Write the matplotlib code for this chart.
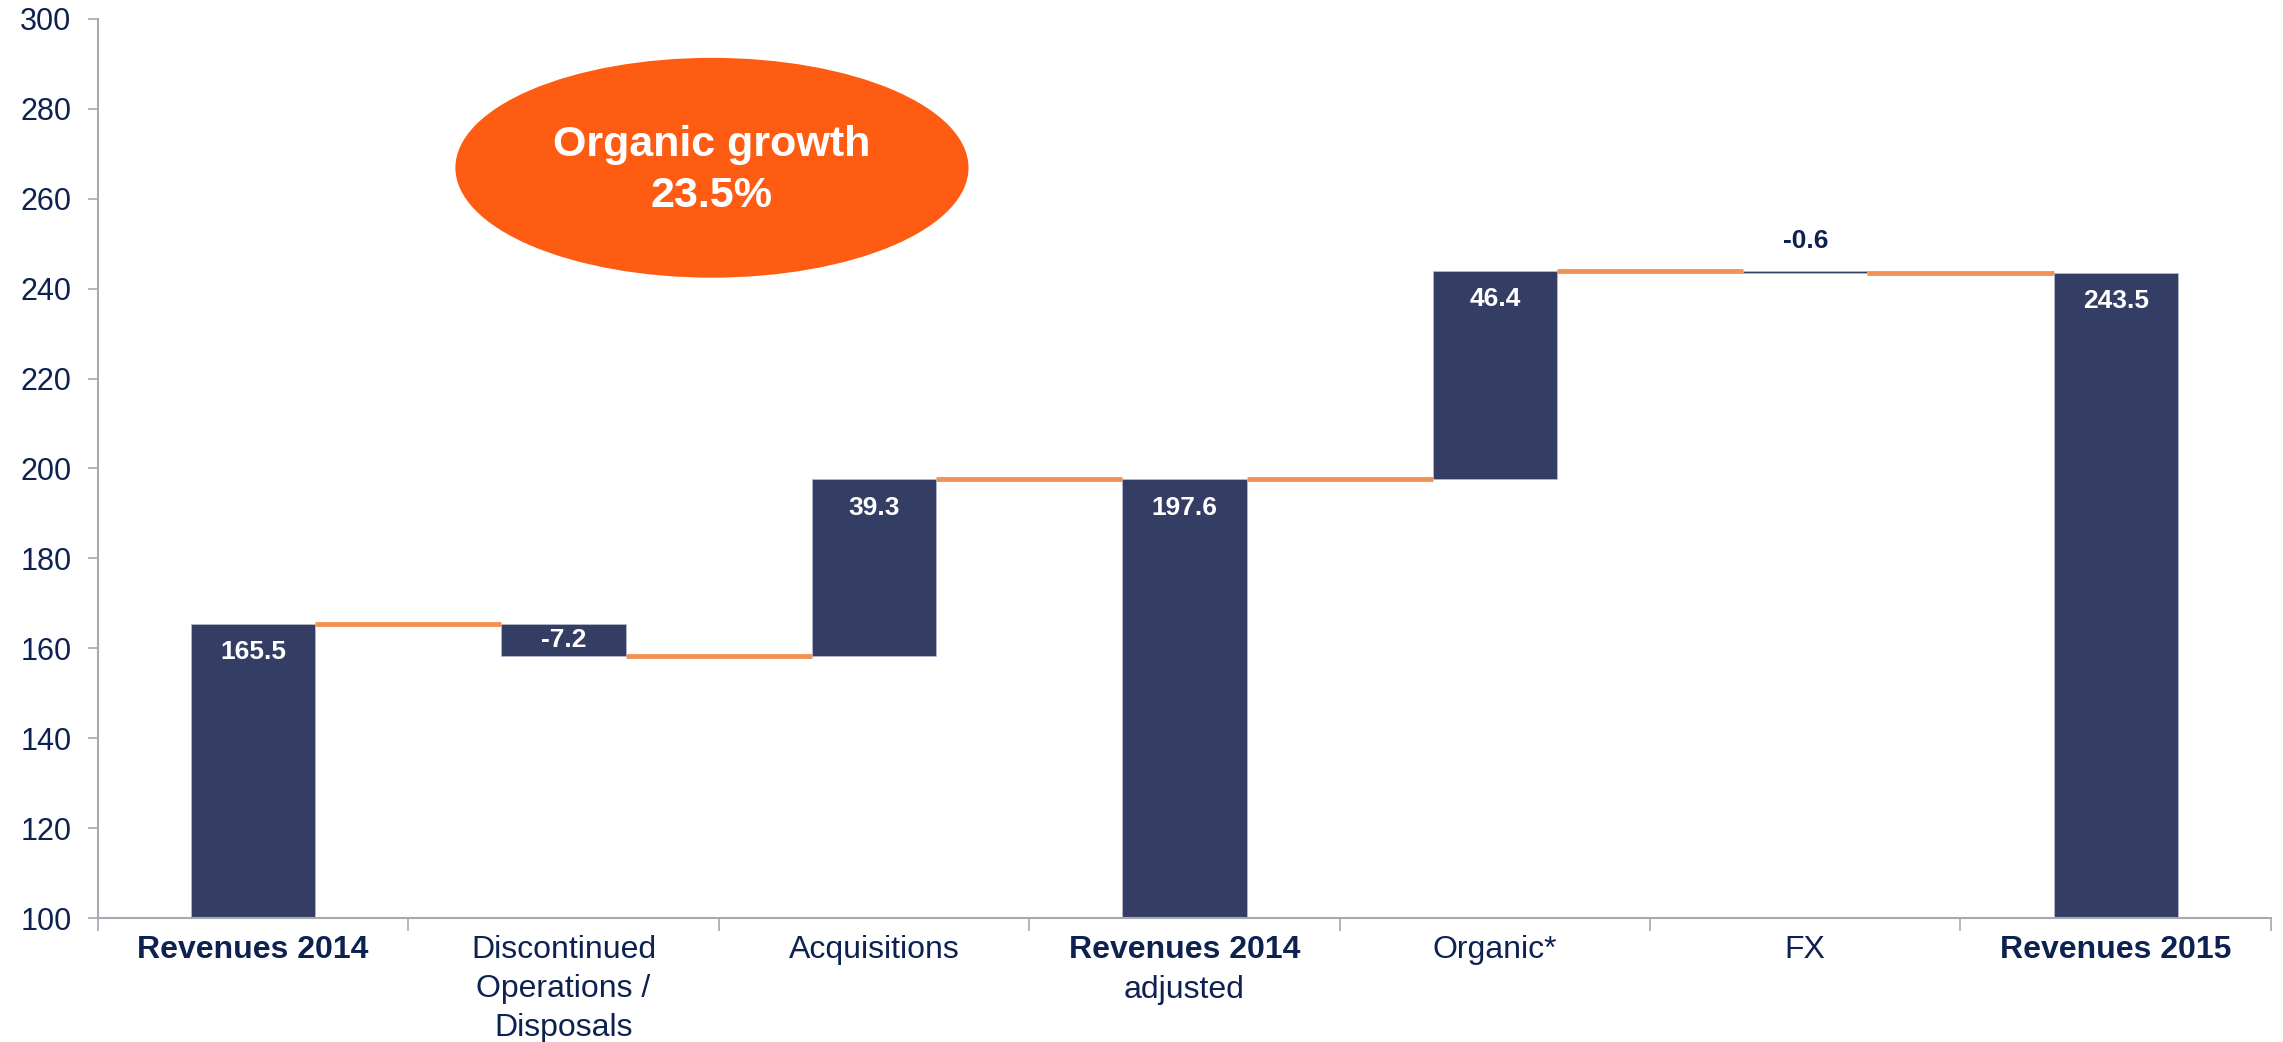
import matplotlib
matplotlib.use("Agg")
import matplotlib.pyplot as plt
from matplotlib.patches import Ellipse
from matplotlib.ticker import FixedLocator

plt.rcParams["font.family"] = ["Liberation Sans", "DejaVu Sans"]

categories = ["Revenues 2014", "Discontinued\nOperations /\nDisposals", "Acquisitions",
              "Revenues 2014", "Organic*", "FX", "Revenues 2015"]
sublabels = ["", "", "", "adjusted", "", "", ""]
values = [165.5, -7.2, 39.3, 197.6, 46.4, -0.6, 243.5]
is_total = [True, False, False, True, False, False, True]
value_labels = ["165.5", "-7.2", "39.3", "197.6", "46.4", "-0.6", "243.5"]
y_ticks = [100, 120, 140, 160, 180, 200, 220, 240, 260, 280, 300]
badge_text = "Organic growth\n23.5%"

NAVY = "#343d63"
TEXT = "#0e2251"
ORANGE = "#f39253"
BADGE = "#ff5c13"
AXIS = "#a7a9b1"
BAR_W = 0.4

fig, ax = plt.subplots(figsize=(22.83, 10.42), dpi=100)
fig.subplots_adjust(left=0.0429, right=0.9947, top=0.9818, bottom=0.119)

# waterfall geometry
level = 0.0
bottoms, tops, levels = [], [], []
for v, tot in zip(values, is_total):
    if tot:
        b, t = 0.0, v
        level = v
    else:
        b, t = min(level, level + v), max(level, level + v)
        level = level + v
    bottoms.append(b)
    tops.append(t)
    levels.append(level)

xs = list(range(len(values)))
ax.bar(xs, [t - b for b, t in zip(bottoms, tops)], bottom=bottoms, width=BAR_W,
       color=NAVY, edgecolor="#b9bdcc", linewidth=0.5, zorder=3)

# connectors between neighbouring bars
for i in range(len(values) - 1):
    ax.plot([i + BAR_W / 2, i + 1 - BAR_W / 2], [levels[i], levels[i]],
            color=ORANGE, lw=3.5, solid_capstyle="butt", zorder=2)

# value labels
for i, (b, t, lab) in enumerate(zip(bottoms, tops, value_labels)):
    h = t - b
    if h < 3:
        ax.text(i, t + 6.5, lab, ha="center", va="center", color=TEXT,
                fontsize=19, fontweight="bold", zorder=4)
    else:
        ax.text(i, t - min(6.3, h / 2), lab, ha="center", va="center", color="white",
                fontsize=19, fontweight="bold", zorder=4)

# growth badge
ax.add_patch(Ellipse((1.478, 266.9), 1.653, 48.9, facecolor=BADGE, edgecolor="none", zorder=5))
ax.text(1.478, 266.3, badge_text, ha="center", va="center", color="white",
        fontsize=31, fontweight="bold", linespacing=1.38, zorder=6)

ax.set_xlim(-0.5, len(values) - 0.5)
ax.set_ylim(100, 300)
ax.set_yticks(y_ticks)

ax.set_xticks(xs)
ax.set_xticklabels(categories)
for lbl, tot in zip(ax.get_xticklabels(), is_total):
    lbl.set_fontweight("bold" if tot else "normal")
    lbl.set_linespacing(1.4)
ax.xaxis.set_minor_locator(FixedLocator([i - 0.5 for i in range(len(values) + 1)]))
ax.tick_params(axis="x", which="major", length=0, pad=12, labelsize=23, labelcolor=TEXT)
ax.tick_params(axis="x", which="minor", length=9.5, width=1.2, color=AXIS)
ax.tick_params(axis="y", length=7, width=1.2, color=AXIS, pad=12, labelsize=22, labelcolor=TEXT)

for i, sub in enumerate(sublabels):
    if sub:
        ax.annotate(sub, xy=(i, 0), xycoords=("data", "axes fraction"),
                    xytext=(0, -52), textcoords="offset points",
                    ha="center", va="center", fontsize=23, color=TEXT)

for side in ("top", "right"):
    ax.spines[side].set_visible(False)
for side in ("left", "bottom"):
    ax.spines[side].set_color(AXIS)
    ax.spines[side].set_linewidth(1.5)
ax.spines["bottom"].set_zorder(4)

fig.savefig("out.png", dpi=100, facecolor="white")
